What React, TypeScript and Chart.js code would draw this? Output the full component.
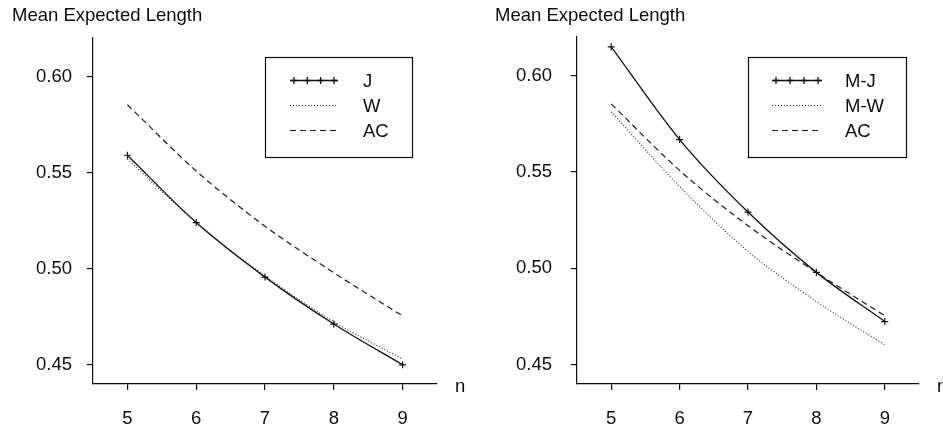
import React, { useEffect, useRef } from "react";
import { Chart, registerables } from "chart.js";

Chart.register(...registerables);

// ---- data ----
const nValues = [5, 6, 7, 8, 9];
const yTickValues = [0.45, 0.5, 0.55, 0.6];
const leftJ = [0.559, 0.524, 0.4956, 0.4712, 0.45];
const leftW = [0.557, 0.524, 0.4962, 0.4724, 0.453];
const acValues = [0.5853, 0.5508, 0.5221, 0.4979, 0.4754];
const rightMJ = [0.6149, 0.5668, 0.5292, 0.4979, 0.4724];
const rightMW = [0.5812, 0.5425, 0.5088, 0.4828, 0.4603];
const leftLabels = ["J", "W", "AC"];
const rightLabels = ["M-J", "M-W", "AC"];
const yTitle = "Mean Expected Length";
const xTitle = "n";

const FONT = "'Liberation Sans', Arial, Helvetica, sans-serif";
const FS = 18.5;
const INK = "#0d0d0d";
const H = 431;

type Layout = {
  width: number;
  chartLeft: number;
  chartRight: number;
  chartTop: number;
  chartBottom: number;
  yPad: number;
  titleX: number;
  nX: number;
  box: { x: number; y: number; w: number; h: number };
  sx0: number;
  sx1: number;
  lx: number;
  rowY: number[];
};

const leftLayout: Layout = {
  width: 471,
  chartLeft: 93,
  chartRight: 437,
  chartTop: 38,
  chartBottom: 384,
  yPad: 15,
  titleX: 12,
  nX: 455,
  box: { x: 265, y: 57, w: 147, h: 100 },
  sx0: 290,
  sx1: 338,
  lx: 363,
  rowY: [80, 105, 130],
};

const rightLayout: Layout = {
  width: 472,
  chartLeft: 106,
  chartRight: 448,
  chartTop: 37,
  chartBottom: 384,
  yPad: 19,
  titleX: 24,
  nX: 466,
  box: { x: 277, y: 57, w: 158, h: 100 },
  sx0: 301,
  sx1: 351,
  lx: 374,
  rowY: [80, 105, 130],
};

const decorPlugin = {
  id: "decor",
  afterDraw(chart: any, _args: any, opts: any) {
    const ctx: CanvasRenderingContext2D = chart.ctx;
    const L: Layout = opts.layout;
    ctx.save();
    ctx.fillStyle = INK;
    ctx.strokeStyle = INK;
    ctx.font = `${FS}px ${FONT}`;
    ctx.textAlign = "left";
    ctx.textBaseline = "alphabetic";
    ctx.fillText(yTitle, L.titleX, 20.5);
    ctx.fillText(xTitle, L.nX, 391.5);
    // legend box
    ctx.lineWidth = 1.2;
    ctx.strokeRect(L.box.x + 0.5, L.box.y + 0.5, L.box.w, L.box.h);
    chart.data.datasets.forEach((ds: any, i: number) => {
      const y = L.rowY[i] + 0.5;
      ctx.strokeStyle = ds.borderColor;
      ctx.lineWidth = ds.borderWidth;
      ctx.setLineDash(ds.borderDash || []);
      ctx.beginPath();
      ctx.moveTo(L.sx0, y);
      ctx.lineTo(L.sx1, y);
      ctx.stroke();
      ctx.setLineDash([]);
      if (ds.pointRadius > 0) {
        const step = (L.sx1 - L.sx0 - 8) / 3;
        for (let k = 0; k < 4; k++) {
          const cx = L.sx0 + 4 + k * step;
          ctx.beginPath();
          ctx.moveTo(cx - 3, y);
          ctx.lineTo(cx + 3, y);
          ctx.moveTo(cx, y - 3.5);
          ctx.lineTo(cx, y + 3.5);
          ctx.stroke();
        }
      }
      ctx.fillStyle = INK;
      ctx.fillText(ds.label, L.lx, L.rowY[i] + 6.8);
    });
    ctx.restore();
  },
};

function Panel({ layout, labels, series }: { layout: Layout; labels: string[]; series: number[][] }) {
  const ref = useRef<HTMLCanvasElement | null>(null);
  useEffect(() => {
    if (!ref.current) return;
    const styles = [
      { borderDash: [], pointRadius: 3.5, borderColor: "#111", borderWidth: 1.3 },
      { borderDash: [1, 2], pointRadius: 0, borderColor: "#2a2a2a", borderWidth: 1.1 },
      { borderDash: [6, 4], pointRadius: 0, borderColor: "#1a1a1a", borderWidth: 1.2 },
    ];
    const datasets = series.map((vals, i) => ({
      label: labels[i],
      data: nValues.map((n, j) => ({ x: n, y: vals[j] })),
      borderColor: styles[i].borderColor,
      borderWidth: styles[i].borderWidth,
      borderDash: styles[i].borderDash,
      pointRadius: styles[i].pointRadius,
      pointStyle: "cross",
      pointBorderColor: "#111",
      pointBorderWidth: 1.2,
      pointHoverRadius: styles[i].pointRadius,
      fill: false,
      cubicInterpolationMode: "monotone" as const,
    }));
    const tickFont = { family: FONT, size: FS };
    const chart = new Chart(ref.current, {
      type: "line",
      data: { datasets },
      plugins: [decorPlugin],
      options: {
        animation: false,
        responsive: false,
        maintainAspectRatio: false,
        layout: {
          padding: { top: layout.chartTop, right: layout.width - layout.chartRight, left: 0, bottom: 0 },
        },
        plugins: {
          legend: { display: false },
          tooltip: { enabled: false },
          title: { display: false },
          decor: { layout },
        } as any,
        scales: {
          x: {
            type: "linear",
            min: 4.5,
            max: 9.5,
            afterBuildTicks: (s: any) => {
              s.ticks = nValues.map((v) => ({ value: v }));
            },
            afterFit: (s: any) => {
              s.height = H - layout.chartBottom;
            },
            grid: { drawOnChartArea: false, drawTicks: true, tickLength: 6, color: INK, lineWidth: 1.2 },
            border: { display: true, color: INK, width: 1.2 },
            ticks: { font: tickFont, color: INK, padding: 18, maxRotation: 0, callback: (v: any) => String(v) },
          },
          y: {
            type: "linear",
            min: 0.44,
            max: 0.62,
            afterBuildTicks: (s: any) => {
              s.ticks = yTickValues.map((v) => ({ value: v }));
            },
            afterFit: (s: any) => {
              s.width = layout.chartLeft;
            },
            grid: { drawOnChartArea: false, drawTicks: true, tickLength: 6, color: INK, lineWidth: 1.2 },
            border: { display: true, color: INK, width: 1.2 },
            ticks: { font: tickFont, color: INK, padding: layout.yPad, callback: (v: any) => Number(v).toFixed(2) },
          },
        },
      } as any,
    });
    return () => chart.destroy();
  }, [layout, labels, series]);
  return (
    <div style={{ width: layout.width, height: H, position: "relative" }}>
      <canvas ref={ref} width={layout.width} height={H} style={{ width: layout.width, height: H, display: "block" }} />
    </div>
  );
}

const leftSeries = [leftJ, leftW, acValues];
const rightSeries = [rightMJ, rightMW, acValues];

export default function App() {
  return (
    <div style={{ position: "fixed", left: 0, top: 0, width: 943, height: H, display: "flex", background: "#fff", overflow: "hidden" }}>
      <Panel layout={leftLayout} labels={leftLabels} series={leftSeries} />
      <Panel layout={rightLayout} labels={rightLabels} series={rightSeries} />
    </div>
  );
}
